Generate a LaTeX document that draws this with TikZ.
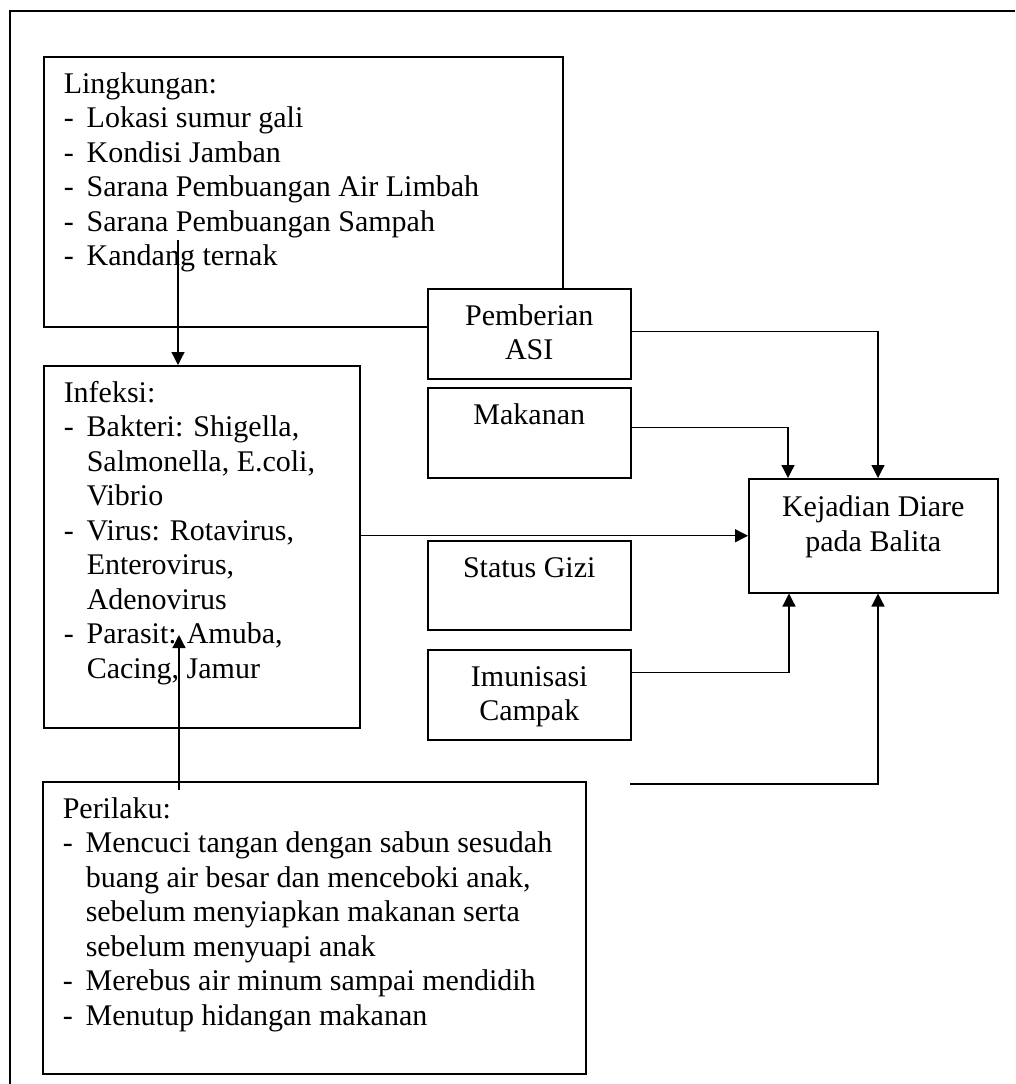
\documentclass[tikz,border=0pt]{standalone}
\usepackage{fontspec}
\setmainfont{Liberation Serif}
\usetikzlibrary{arrows.meta,calc}
\newcommand{\lbox}[3]{\parbox[c][#2pt][t]{#1pt}{\leftskip=20pt\rightskip=0pt plus 1fil\parindent=0pt\rule{0pt}{36.5pt}#3}}
\newcommand{\cbox}[3]{\parbox[c][#2pt][t]{#1pt}{\centering\rule{0pt}{36.5pt}#3}}
\newcommand{\itm}{\par\hangindent=23pt\hangafter=1\makebox[23pt][l]{-}}
\begin{document}
\begin{tikzpicture}[x=1pt,y=-1pt,
  bx/.style={draw, line width=1.5pt, fill=white, inner sep=0pt, anchor=north west, font=\fontsize{30}{34.5}\selectfont},
  conn/.style={line width=1.3pt},
  arr/.style={conn, -{Triangle[length=13pt,width=13pt]}}]
\useasboundingbox (0,0) rectangle (1015,1084);
\draw[line width=1.8pt] (10,1084) -- (10,11) -- (1015,11);
\node[bx] (ling) at (43,56) {\lbox{519}{270}{Lingkungan:\itm Lokasi sumur gali\itm Kondisi Jamban\itm Sarana Pembuangan Air Limbah\itm Sarana Pembuangan Sampah\itm Kandang ternak}};
\node[bx] (asi) at (427,288) {\cbox{203}{90}{Pemberian\\ASI}};
\node[bx] (mak) at (427,387) {\cbox{203}{90}{Makanan}};
\node[bx] (gizi) at (427,540) {\cbox{203}{89}{Status Gizi}};
\node[bx] (imun) at (427,649) {\cbox{203}{90}{Imunisasi\\Campak}};
\node[bx] (inf) at (43,365) {\lbox{316}{362}{Infeksi:\itm Bakteri: Shigella,\newline Salmonella, E.coli,\newline Vibrio\itm Virus: Rotavirus,\newline Enterovirus,\newline Adenovirus\itm Parasit: Amuba,\newline Cacing, Jamur}};
\node[bx] (kej) at (748,478) {\parbox[c][114pt][t]{249pt}{\centering\rule{0pt}{38pt}Kejadian Diare\\pada Balita}};
\node[bx] (per) at (42,781) {\lbox{543}{292}{Perilaku:\itm Mencuci tangan dengan sabun sesudah\newline buang air besar dan menceboki anak,\newline sebelum menyiapkan makanan serta\newline sebelum menyuapi anak\itm Merebus air minum sampai mendidih\itm Menutup hidangan makanan}};
\coordinate (l1) at (178,240);
\coordinate (p1) at (179,790);
\coordinate (p2) at (179,635);
\coordinate (free) at (630,784);
\draw[arr] (l1) -- (l1 |- inf.north);
\draw[arr] (p1) -- (p2);
\draw[arr] ([yshift=2pt]asi.east) -| ([xshift=130pt]kej.north west);
\draw[arr] ([yshift=5pt]mak.east) -| ([xshift=40pt]kej.north west);
\draw[arr] (inf.east |- kej.west) -- (kej.west);
\draw[arr] ([yshift=22pt]imun.east) -| ([xshift=41pt]kej.south west);
\draw[arr] (free) -| ([xshift=130pt]kej.south west);
\end{tikzpicture}
\end{document}
